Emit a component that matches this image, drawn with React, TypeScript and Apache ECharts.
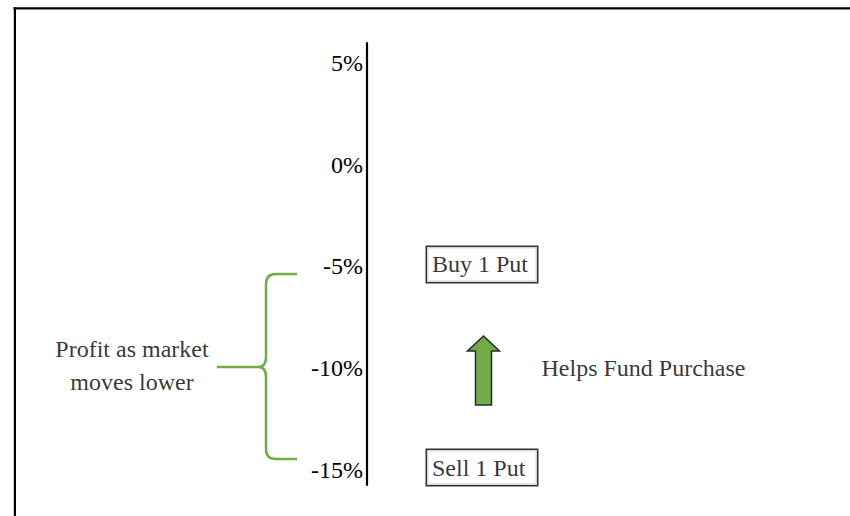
import { useEffect, useRef } from 'react';
import * as echarts from 'echarts';

// Tick labels on the vertical (percent) axis
const tickValues = [5, 0, -5, -10, -15];
const axisMax = 6;
const axisMin = -15.76;

// Boxed labels and the levels they sit at
const boxLabels = ['Buy 1 Put', 'Sell 1 Put'];
const boxLevels = [-5, -15];

// Arrow: from level to level
const arrowFrom = -11.82;
const arrowTo = -8.42;
const arrowText = 'Helps Fund Purchase';
const arrowTextLevel = -10;

// Brace spanning levels
const braceTop = -5.37;
const braceBottom = -14.48;
const braceMid = -9.95;
const braceText = 'Profit as market\nmoves lower';

const FONT = "'Liberation Serif', serif";
const GREEN = '#70AD47';
const TEXT = '#000';
const FS = 24;

export default function App() {
  const ref = useRef<HTMLDivElement>(null);

  useEffect(() => {
    document.body.style.margin = '0';
    if (!ref.current) return;
    const chart = echarts.init(ref.current, undefined, { renderer: 'svg' });

    const boxX = 60;
    const arrowX = 116.5;
    const braceSpineX = -101;

    const option: any = {
      animation: false,
      backgroundColor: '#fff',
      textStyle: { fontFamily: FONT },
      grid: { left: 367, right: 0, top: 43, bottom: 31, containLabel: false, outerBoundsMode: 'none' },
      xAxis: {
        type: 'value',
        min: 0,
        max: 483,
        show: false,
      },
      yAxis: {
        type: 'value',
        position: 'left',
        min: axisMin,
        max: axisMax,
        axisLine: { show: true, onZero: false, lineStyle: { color: '#000', width: 2.2 } },
        axisTick: { show: false },
        splitLine: { show: false },
        axisLabel: {
          customValues: tickValues,
          formatter: (v: number) => `${v}%`,
          fontFamily: FONT,
          fontSize: FS,
          color: TEXT,
          margin: 4,
        },
      },
      graphic: [
        { type: 'line', shape: { x1: 13.5, y1: 8.3, x2: 850, y2: 8.3 }, style: { stroke: '#000', lineWidth: 2.2 } },
        { type: 'line', shape: { x1: 14.9, y1: 7.2, x2: 14.9, y2: 516 }, style: { stroke: '#000', lineWidth: 2.2 } },
      ],
      series: [
        {
          type: 'scatter',
          silent: true,
          clip: false,
          symbolSize: 1,
          itemStyle: { color: 'transparent' },
          data: boxLabels.map((n, i) => ({ name: n, value: [boxX, boxLevels[i]] })),
          label: {
            show: true,
            position: 'inside',
            formatter: '{b}',
            fontFamily: FONT,
            fontSize: FS,
            lineHeight: 25,
            color: TEXT,
            backgroundColor: '#fff',
            borderColor: '#000',
            borderWidth: 1.5,
            padding: [5, 5, 5, 5],
            width: 100,
            align: 'left',
            offset: [0, -2],
          },
        },
        {
          type: 'scatter',
          silent: true,
          clip: false,
          symbolSize: 1,
          itemStyle: { color: 'transparent' },
          data: [{ name: arrowText, value: [174, arrowTextLevel] }],
          label: {
            show: true,
            position: 'right',
            distance: 0,
            formatter: '{b}',
            fontFamily: FONT,
            fontSize: FS,
            color: TEXT,
          },
        },
        {
          type: 'scatter',
          silent: true,
          clip: false,
          symbolSize: 1,
          itemStyle: { color: 'transparent' },
          data: [{ name: braceText, value: [-235, braceMid] }],
          label: {
            show: true,
            position: 'inside',
            formatter: '{b}',
            fontFamily: FONT,
            fontSize: FS,
            lineHeight: 33,
            align: 'center',
            color: TEXT,
            offset: [0, -1],
          },
        },
        {
          type: 'custom',
          silent: true,
          clip: false,
          data: [[arrowX, arrowFrom, arrowTo]],
          renderItem: (params: any, api: any) => {
            const b = api.coord([api.value(0), api.value(1)]);
            const t = api.coord([api.value(0), api.value(2)]);
            const cx = b[0];
            const by = b[1];
            const ty = t[1];
            const hl = 15;
            const hw = 16;
            const sw = 8;
            return {
              type: 'polygon',
              shape: {
                points: [
                  [cx - sw, by],
                  [cx - sw, ty + hl],
                  [cx - hw, ty + hl],
                  [cx, ty],
                  [cx + hw, ty + hl],
                  [cx + sw, ty + hl],
                  [cx + sw, by],
                ],
              },
              style: { fill: GREEN, stroke: '#2a2a2a', lineWidth: 1.5 },
            };
          },
        },
        {
          type: 'custom',
          silent: true,
          clip: false,
          data: [[braceSpineX, braceTop, braceBottom, braceMid]],
          renderItem: (params: any, api: any) => {
            const top = api.coord([api.value(0), api.value(1)]);
            const bot = api.coord([api.value(0), api.value(2)]);
            const mid = api.coord([api.value(0), api.value(3)]);
            const x = top[0];
            const ty = top[1];
            const byy = bot[1];
            const my = mid[1];
            const tipX = x + 31;
            const ptX = x - 8;
            const d =
              `M ${tipX} ${ty} L ${x + 10} ${ty} Q ${x} ${ty} ${x} ${ty + 10} ` +
              `L ${x} ${my - 10} Q ${x} ${my} ${ptX} ${my} Q ${x} ${my} ${x} ${my + 10} ` +
              `L ${x} ${byy - 10} Q ${x} ${byy} ${x + 10} ${byy} L ${tipX} ${byy} ` +
              `M ${x - 49} ${my} L ${ptX} ${my}`;
            return {
              type: 'path',
              shape: { pathData: d },
              style: { fill: 'none', stroke: GREEN, lineWidth: 2.5 },
            };
          },
        },
      ],
    };

    chart.setOption(option);
    return () => chart.dispose();
  }, []);

  return <div ref={ref} style={{ width: 850, height: 516 }} />;
}
